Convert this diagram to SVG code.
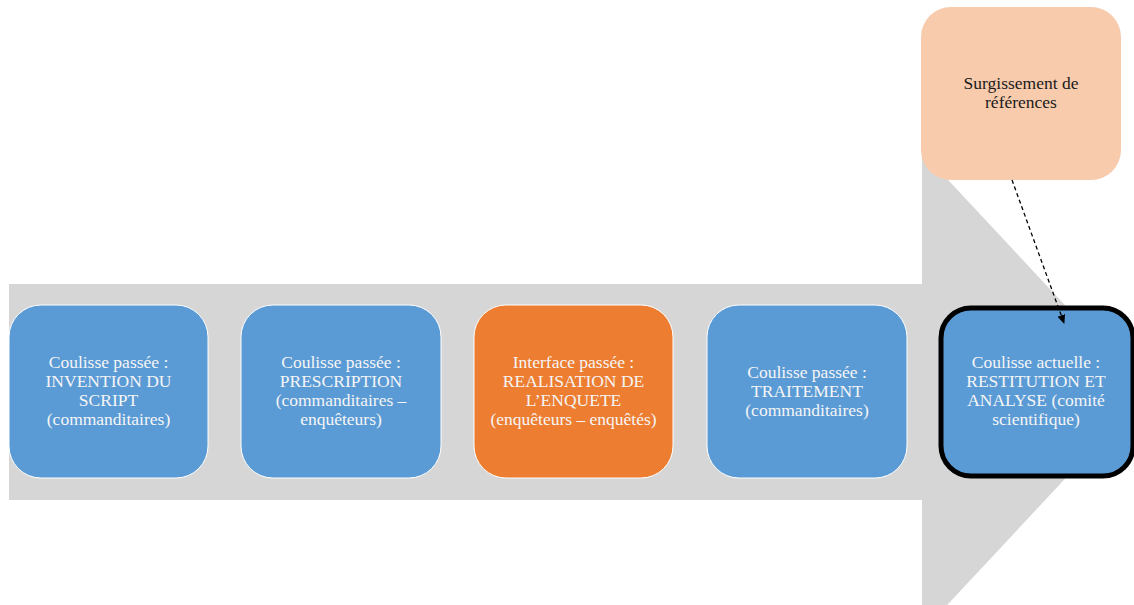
<svg xmlns="http://www.w3.org/2000/svg" width="1134" height="605" viewBox="0 0 1134 605">
<defs>
<style>
.box{stroke:#ffffff;stroke-width:1}
.blue{fill:#5B9BD5}
.orange{fill:#ED7D31}
.t{font-family:"Liberation Serif","DejaVu Serif",serif;font-size:17.5px;fill:#F5F5F5;text-anchor:middle}
.td{font-family:"Liberation Serif","DejaVu Serif",serif;font-size:17.5px;fill:#1a1a1a;text-anchor:middle}
</style>
<marker id="ah" markerWidth="10" markerHeight="10" refX="8" refY="5" orient="auto" markerUnits="userSpaceOnUse">
<path d="M0,1 L9,5 L0,9 Z" fill="#000000"/>
</marker>
</defs>
<rect width="1134" height="605" fill="#ffffff"/>
<g id="big-arrow">
<polygon points="9,284 922,284 922,152 1146,392 922,632 922,500 9,500" fill="#D6D6D6"/>
</g>
<g id="node1">
<rect class="box blue" x="9" y="305" width="199" height="173" rx="32"/>
<text class="t" x="108.5" y="368">Coulisse passée :</text>
<text class="t" x="108.5" y="387">INVENTION DU</text>
<text class="t" x="108.5" y="406">SCRIPT</text>
<text class="t" x="108.5" y="425">(commanditaires)</text>
</g>
<g id="node2">
<rect class="box blue" x="241" y="305" width="200" height="173" rx="32"/>
<text class="t" x="341" y="368">Coulisse passée :</text>
<text class="t" x="341" y="387">PRESCRIPTION</text>
<text class="t" x="341" y="406">(commanditaires –</text>
<text class="t" x="341" y="425">enquêteurs)</text>
</g>
<g id="node3">
<rect class="box orange" x="474" y="305" width="199" height="173" rx="32"/>
<text class="t" x="573.5" y="368">Interface passée :</text>
<text class="t" x="573.5" y="387">REALISATION DE</text>
<text class="t" x="573.5" y="406">L’ENQUETE</text>
<text class="t" x="573.5" y="425">(enquêteurs – enquêtés)</text>
</g>
<g id="node4">
<rect class="box blue" x="707" y="305" width="200" height="173" rx="32"/>
<text class="t" x="807" y="378">Coulisse passée :</text>
<text class="t" x="807" y="397">TRAITEMENT</text>
<text class="t" x="807" y="416">(commanditaires)</text>
</g>
<g id="node5">
<rect class="blue" x="941" y="308" width="192" height="168" rx="30" stroke="#000000" stroke-width="5"/>
<text class="t" x="1036" y="368">Coulisse actuelle :</text>
<text class="t" x="1036" y="387">RESTITUTION ET</text>
<text class="t" x="1036" y="406">ANALYSE (comité</text>
<text class="t" x="1036" y="425">scientifique)</text>
</g>
<g id="node6">
<rect x="921" y="7" width="200" height="173" rx="30" fill="#F8CBAD"/>
<text class="td" x="1021" y="89">Surgissement de</text>
<text class="td" x="1021" y="108">références</text>
</g>
<g id="connectors">
<line x1="1012" y1="180" x2="1064" y2="323" stroke="#000000" stroke-width="1.3" stroke-dasharray="4,3" marker-end="url(#ah)"/>
</g>
</svg>
